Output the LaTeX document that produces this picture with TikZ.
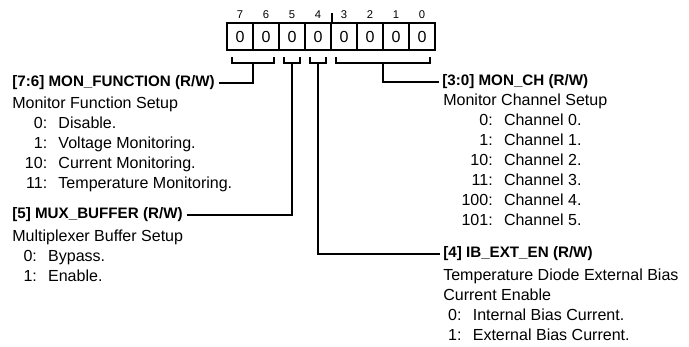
\documentclass[tikz,border=0pt]{standalone}
\usepackage{fontspec}
\setmainfont{Liberation Sans}
\usetikzlibrary{calc}

\begin{document}
\begin{tikzpicture}[x=0.025cm, y=-0.025cm, font=\fontsize{11.4}{14.2}\selectfont,
  cell/.style={draw, line width=1.4pt, minimum width=0.65cm, minimum height=0.675cm, inner sep=0pt},
  bitnum/.style={font=\fontsize{8}{9}\selectfont, inner sep=0pt, label distance=2.5pt},
  brk/.style={line width=1.4pt},
  wire/.style={line width=1.4pt},
  fieldname/.style={font=\fontsize{10.8}{13}\selectfont\bfseries, inner sep=2.5pt, anchor=west},
  fielddesc/.style={inner sep=0pt, anchor=base west}]
  \useasboundingbox (0,0) rectangle (689,347);
  \node[cell, label={[bitnum]above:7}] (c7) at (240,36.5) {0};
  \node[cell, label={[bitnum]above:6}] (c6) at (266,36.5) {0};
  \node[cell, label={[bitnum]above:5}] (c5) at (292,36.5) {0};
  \node[cell, label={[bitnum]above:4}] (c4) at (318,36.5) {0};
  \node[cell, label={[bitnum]above:3}] (c3) at (344,36.5) {0};
  \node[cell, label={[bitnum]above:2}] (c2) at (370,36.5) {0};
  \node[cell, label={[bitnum]above:1}] (c1) at (396,36.5) {0};
  \node[cell, label={[bitnum]above:0}] (c0) at (422,36.5) {0};
  \draw[line width=0.8pt] (c4.north east) -- ++(0,-9);
  \draw[brk] ($(c7.south west)+(6,6)$) -- ++(0,6) -| ($(c6.south east)+(-6,6)$);
  \draw[brk] ($(c5.south west)+(6,6)$) -- ++(0,6) -| ($(c5.south east)+(-6,6)$);
  \draw[brk] ($(c4.south west)+(6,6)$) -- ++(0,6) -| ($(c4.south east)+(-6,6)$);
  \draw[brk] ($(c3.south west)+(6,6)$) -- ++(0,6) -| ($(c0.south east)+(-6,6)$);
  \coordinate (b76) at ($(c7.south)!0.5!(c6.south)+(0,12)$);
  \coordinate (b5) at ($(c5.south)+(0,12)$);
  \coordinate (b4) at ($(c4.south)+(0,12)$);
  \coordinate (b30) at ($(c3.south)!0.5!(c0.south)+(0,12)$);
  \node[fieldname] (monfn) at (8.5,83) {[7:6] MON\_FUNCTION (R/W)};
  \node[fieldname] (muxbuf) at (8.5,215) {[5] MUX\_BUFFER (R/W)};
  \node[fieldname] (monch) at (438.5,82) {[3:0] MON\_CH (R/W)};
  \node[fieldname] (ibext) at (439.5,254) {[4] IB\_EXT\_EN (R/W)};
  \draw[wire] (b76) |- (monfn.east);
  \draw[wire] (b5) |- (muxbuf.east);
  \draw[wire] (b30) |- (monch.west);
  \draw[wire] (b4) |- (ibext.west);
  \node[fielddesc] (monfndesc) at (12,108.5) {\begin{tabular}[t]{@{\hspace{9pt}}r@{\hspace{8pt}}l@{}}
    \multicolumn{2}{@{}l@{}}{Monitor Function Setup}\\
    0: & Disable.\\
    1: & Voltage Monitoring.\\
    10: & Current Monitoring.\\
    11: & Temperature Monitoring.
  \end{tabular}};
  \node[fielddesc] (muxbufdesc) at (12,241.5) {\begin{tabular}[t]{@{\hspace{8pt}}r@{\hspace{8pt}}l@{}}
    \multicolumn{2}{@{}l@{}}{Multiplexer Buffer Setup}\\
    0: & Bypass.\\
    1: & Enable.
  \end{tabular}};
  \node[fielddesc] (monchdesc) at (443,106) {\begin{tabular}[t]{@{\hspace{13pt}}r@{\hspace{8pt}}l@{}}
    \multicolumn{2}{@{}l@{}}{Monitor Channel Setup}\\
    0: & Channel 0.\\
    1: & Channel 1.\\
    10: & Channel 2.\\
    11: & Channel 3.\\
    100: & Channel 4.\\
    101: & Channel 5.
  \end{tabular}};
  \node[fielddesc] (ibextdesc) at (443,280.5) {\begin{tabular}[t]{@{\hspace{3.5pt}}r@{\hspace{8pt}}l@{}}
    \multicolumn{2}{@{}l@{}}{Temperature Diode External Bias}\\
    \multicolumn{2}{@{}l@{}}{Current Enable}\\
    0: & Internal Bias Current.\\
    1: & External Bias Current.
  \end{tabular}};
\end{tikzpicture}
\end{document}
